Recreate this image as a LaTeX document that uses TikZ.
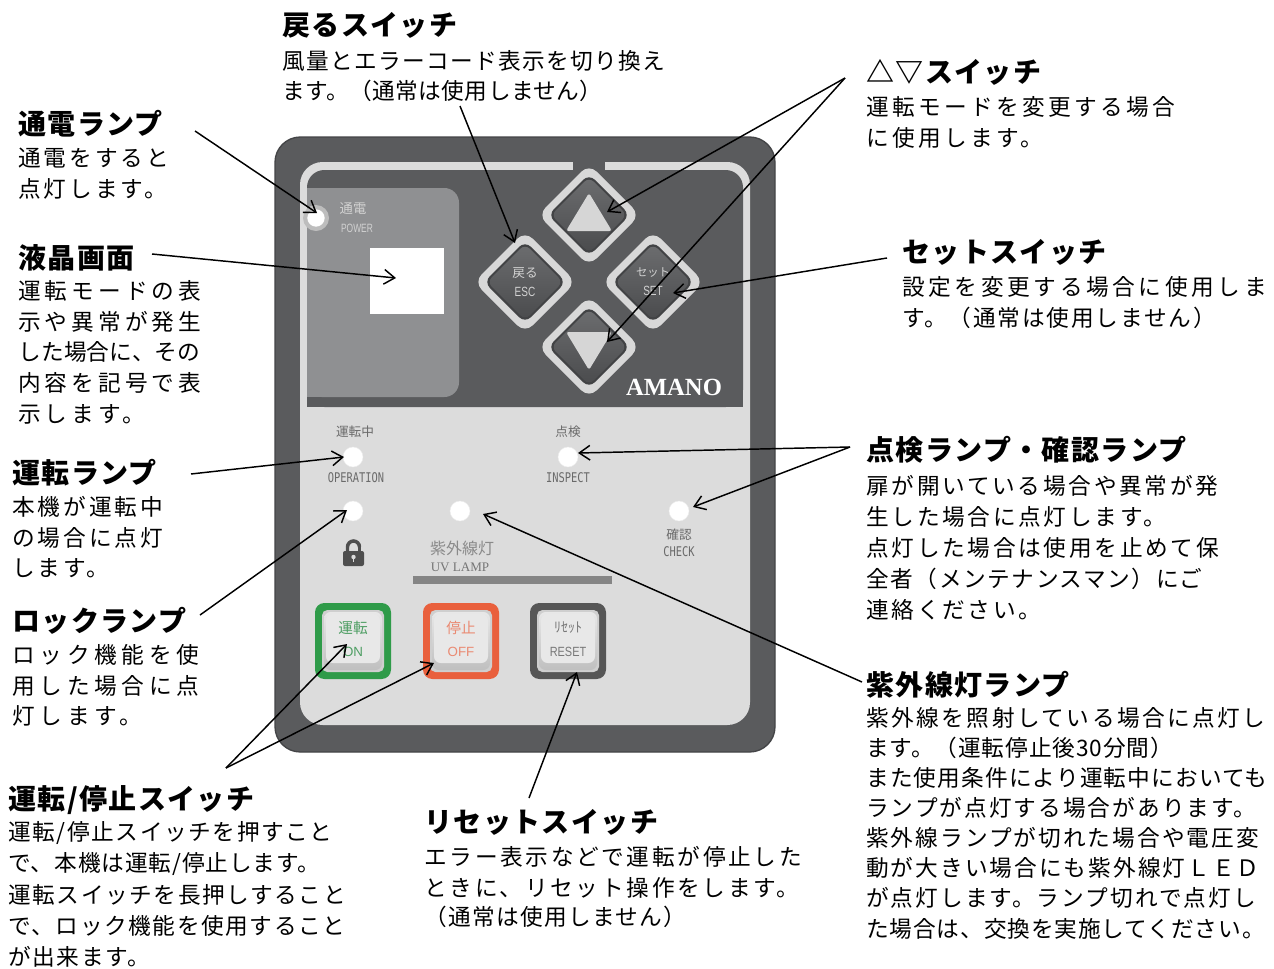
\documentclass[tikz,border=0pt]{standalone}
\usepackage{fontspec}
\setmainfont{Noto Sans CJK JP}
\newfontfamily\jpfont{Noto Sans CJK JP}
\newfontfamily\monofont{DejaVu Sans Mono}
\newfontfamily\latinsans{Liberation Sans}
\newfontfamily\latinserif{Liberation Serif}
\usetikzlibrary{arrows.meta}

\definecolor{panel}{HTML}{5A5B5D}
\definecolor{paneledge}{HTML}{444547}
\definecolor{face}{HTML}{DCDCDC}
\definecolor{lcd}{HTML}{8F9092}
\definecolor{keyrim}{HTML}{D8D8D8}
\definecolor{keyedge}{HTML}{424345}
\definecolor{keyhi}{HTML}{6C6D6F}
\definecolor{keylo}{HTML}{4A4B4D}
\definecolor{tri}{HTML}{D6D6D6}
\definecolor{keyprint}{HTML}{D2D2D2}
\definecolor{prgray}{HTML}{6A6A6A}
\definecolor{ledring}{HTML}{BDBDBD}
\definecolor{ongreen}{HTML}{2F9B49}
\definecolor{ontext}{HTML}{4E9E63}
\definecolor{offred}{HTML}{E9603D}
\definecolor{offtext}{HTML}{EA8A72}
\definecolor{resetgray}{HTML}{565656}
\definecolor{resettext}{HTML}{787878}
\definecolor{uvgray}{HTML}{8A8A8A}
\definecolor{bargray}{HTML}{858585}
\definecolor{keygap}{HTML}{CFCFCF}
\definecolor{pushface}{HTML}{E8E8E8}
\definecolor{lockgray}{HTML}{4E4E4E}

% square push key with a coloured frame: #1 centre, #2 frame colour
\newcommand\drawpushkey[2]{%
  \begin{scope}[shift={(#1)}]
    \fill[#2, rounded corners=7pt] (-38,-38) rectangle (38,38);
    \fill[keygap, rounded corners=4pt] (-31,-31) rectangle (31,31);
    \shade[top color=pushface, bottom color=keygap!80!gray, rounded corners=5pt] (-29,-29) rectangle (29,29);
    \fill[pushface, rounded corners=5pt] (-27,-27) rectangle (27,22);
  \end{scope}}

\begin{document}
\begin{tikzpicture}[x=0.75pt, y=-0.75pt,
  title/.style={anchor=west, inner sep=0pt,
    font=\jpfont\bfseries\fontsize{21pt}{24pt}\selectfont\addfontfeature{LetterSpace=5}},
  body/.style={anchor=west, inner sep=0pt,
    font=\jpfont\fontsize{17pt}{20pt}\selectfont\addfontfeature{LetterSpace=#1}},
  body/.default=12,
  conn/.style={draw=black, line width=1.1pt,
    -{Straight Barb[length=8pt, width=11pt, line width=1.1pt]}},
  led/.style={circle, fill=white, draw=white!85!gray, line width=0.3pt,
    minimum size=15pt, inner sep=0pt},
  smalljp/.style={inner sep=0pt, text=prgray,
    font=\jpfont\fontsize{9.5pt}{11pt}\selectfont},
  smallmono/.style={inner sep=0pt, text=prgray,
    font=\monofont\fontsize{10pt}{12pt}\selectfont},
  diakey/.pic={
    \fill[keyrim, rounded corners=8pt] (0,-51) -- (51,0) -- (0,51) -- (-51,0) -- cycle;
    \fill[keyedge, rounded corners=6pt] (0,-41) -- (41,0) -- (0,41) -- (-41,0) -- cycle;
    \shade[top color=keyhi, bottom color=keylo, rounded corners=5pt]
      (0,-38) -- (38,0) -- (0,38) -- (-38,0) -- cycle;
  }]
\useasboundingbox (0,0) rectangle (1274,968);
\fill[white] (0,0) rectangle (1274,968);

% ---------- control panel ----------
\fill[panel, draw=paneledge, line width=1pt, rounded corners=19pt] (275,137) rectangle (775,752);
\fill[face, rounded corners=17pt] (300,162) rectangle (750,725);
\fill[panel, rounded corners=13pt] (307,170) rectangle (743,407);
\fill[panel] (307,370) rectangle (743,407);
\fill[panel] (573,158) rectangle (605,172);

% display window
\fill[lcd, rounded corners=11pt] (307,188) rectangle (459,397);
\fill[lcd] (307,188) rectangle (340,397);
\fill[white] (370,248) rectangle (444,314);

% power lamp
\fill[ledring] (316,218) circle (13);
\node[circle, fill=white, minimum size=13pt, inner sep=0pt] (powerLed) at (316,218) {};
\node[inner sep=0pt, text=keyprint, font=\jpfont\fontsize{10pt}{12pt}\selectfont] (powerJp) at (353,209) {通電};
\node[inner sep=0pt, text=keyprint, font=\latinsans\fontsize{9pt}{11pt}\selectfont] (powerEn) at (357,228) {\scalebox{0.7}[1]{POWER}};

% diamond keys
\pic at (589,215) {diakey};
\pic at (525,282) {diakey};
\pic at (653,282) {diakey};
\pic at (589,347) {diakey};
\fill[tri, rounded corners=2pt] (589,193) -- (612,231) -- (566,231) -- cycle;
\fill[tri, rounded corners=2pt] (566,332) -- (612,332) -- (589,370) -- cycle;
\node[inner sep=0pt, text=keyprint, font=\jpfont\fontsize{9.5pt}{11pt}\selectfont] (escJp) at (525,273) {戻る};
\node[inner sep=0pt, text=keyprint, font=\latinsans\fontsize{10pt}{12pt}\selectfont] (escEn) at (525,292) {\scalebox{0.75}[1]{ESC}};
\node[inner sep=0pt, text=keyprint, font=\jpfont\fontsize{8.5pt}{10pt}\selectfont] (setJp) at (653,273) {セット};
\node[inner sep=0pt, text=keyprint, font=\latinsans\fontsize{10pt}{12pt}\selectfont] (setEn) at (653,291) {\scalebox{0.75}[1]{SET}};
\node[inner sep=0pt, text=white, font=\latinserif\bfseries\fontsize{18.5pt}{20pt}\selectfont] (brand) at (674,387) {AMANO};

% indicator lamps
\node[led] (ledOp) at (353,457) {};
\node[led] (ledLock) at (353,511) {};
\node[led] (ledUv) at (460,511) {};
\node[led] (ledInsp) at (568,457) {};
\node[led] (ledCheck) at (679,511) {};
\node[smalljp] (opJp) at (355,432) {運転中};
\node[smallmono] (opEn) at (356,478) {\scalebox{0.78}[1]{OPERATION}};
\node[smalljp] (inspJp) at (568,432) {点検};
\node[smallmono] (inspEn) at (568,478) {\scalebox{0.78}[1]{INSPECT}};
\node[smalljp] (checkJp) at (679,535) {確認};
\node[smallmono] (checkEn) at (679,552) {\scalebox{0.78}[1]{CHECK}};
\node[inner sep=0pt, text=uvgray, font=\jpfont\fontsize{12pt}{14pt}\selectfont] (uvJp) at (462,548) {紫外線灯};
\node[inner sep=0pt, text=uvgray!85!black, font=\latinserif\fontsize{9.8pt}{12pt}\selectfont] (uvEn) at (460,567) {UV LAMP};
\fill[bargray] (413,576) rectangle (612,584);

% padlock symbol
\draw[lockgray, line width=2.6pt] (347.5,553) -- (347.5,547) arc[start angle=180, end angle=360, radius=6];
\draw[lockgray, line width=2.6pt] (359.5,547) -- (359.5,553);
\fill[lockgray, rounded corners=1.5pt] (343,551) rectangle (364,566);
\fill[face] (353.5,557) circle (2.2);
\fill[face] (352.6,557) rectangle (354.4,562);

% push keys
\drawpushkey{353,641}{ongreen}
\drawpushkey{461,641}{offred}
\drawpushkey{568,641}{resetgray}
\node[inner sep=0pt, text=ontext, font=\jpfont\fontsize{11pt}{13pt}\selectfont] (onJp) at (353,628) {運転};
\node[inner sep=0pt, text=ontext, font=\latinsans\fontsize{10pt}{12pt}\selectfont] (onEn) at (353,652) {ON};
\node[inner sep=0pt, text=offtext, font=\jpfont\fontsize{11pt}{13pt}\selectfont] (offJp) at (461,628) {停止};
\node[inner sep=0pt, text=offtext, font=\latinsans\fontsize{10pt}{12pt}\selectfont] (offEn) at (461,652) {OFF};
\node[inner sep=0pt, text=resettext, font=\jpfont\fontsize{10.5pt}{13pt}\selectfont] (resetJp) at (568,628) {ﾘｾｯﾄ};
\node[inner sep=0pt, text=resettext, font=\latinsans\fontsize{10pt}{12pt}\selectfont] (resetEn) at (568,652) {\scalebox{0.82}[1]{RESET}};

% ---------- callout texts ----------
\node[title] (tEsc) at (282,25) {戻るスイッチ};
\node[body=6] (bEsc1) at (282,61) {風量とエラーコード表示を切り換え};
\node[body=2] (bEsc2) at (282,91) {ます。（通常は使用しません）};

\node[title] (tPower) at (18,124) {通電ランプ};
\node[body=13] (bPower1) at (18,158) {通電をすると};
\node[body=13] (bPower2) at (18,189) {点灯します。};

\node[title] (tLcd) at (18,258) {液晶画面};
\node[body=18] (bLcd1) at (18,291) {運転モードの表};
\node[body=18] (bLcd2) at (18,322) {示や異常が発生};
\node[body=1] (bLcd3) at (18,352) {した場合に、その};
\node[body=18] (bLcd4) at (18,383) {内容を記号で表};
\node[body=18] (bLcd5) at (18,414) {示します。};

\node[title] (tOp) at (12,473) {運転ランプ};
\node[body=13] (bOp1) at (12,507) {本機が運転中};
\node[body=13] (bOp2) at (12,538) {の場合に点灯};
\node[body=13] (bOp3) at (12,568) {します。};

\node[title] (tLock) at (12,621) {ロックランプ};
\node[body=21] (bLock1) at (12,655) {ロック機能を使};
\node[body=21] (bLock2) at (12,686) {用した場合に点};
\node[body=21] (bLock3) at (12,716) {灯します。};

\node[title] (tRun) at (8,800) {運転/停止スイッチ};
\node[body=7] (bRun1) at (8,833) {運転/停止スイッチを押すこと};
\node[body=4] (bRun2) at (8,864) {で、本機は運転/停止します。};
\node[body=7] (bRun3) at (8,895) {運転スイッチを長押しすること};
\node[body=7] (bRun4) at (8,926) {で、ロック機能を使用すること};
\node[body=7] (bRun5) at (8,957) {が出来ます。};

\node[title] (tReset) at (424,822) {リセットスイッチ};
\node[body=12] (bReset1) at (424,857) {エラー表示などで運転が停止した};
\node[body=12] (bReset2) at (424,888) {ときに、リセット操作をします。};
\node[body=6] (bReset3) at (424,917) {（通常は使用しません）};

\node[title] (tUd) at (866,72) {△▽スイッチ};
\node[body=15] (bUd1) at (866,107) {運転モードを変更する場合};
\node[body=15] (bUd2) at (866,138) {に使用します。};

\node[title] (tSet) at (902,252) {セットスイッチ};
\node[body=16] (bSet1) at (902,287) {設定を変更する場合に使用しま};
\node[body=8] (bSet2) at (902,318) {す。（通常は使用しません）};

\node[title] (tLamp) at (866,450) {点検ランプ・確認ランプ};
\node[body=12] (bLamp1) at (866,486) {扉が開いている場合や異常が発};
\node[body=12] (bLamp2) at (866,517) {生した場合に点灯します。};
\node[body=12] (bLamp3) at (866,548) {点灯した場合は使用を止めて保};
\node[body=7] (bLamp4) at (866,579) {全者（メンテナンスマン）にご};
\node[body=12] (bLamp5) at (866,610) {連絡ください。};

\node[title] (tUv) at (866,685) {紫外線灯ランプ};
\node[body=11] (bUv1) at (866,718) {紫外線を照射している場合に点灯し};
\node[body=4] (bUv2) at (866,748) {ます。（運転停止後30分間）};
\node[body=5] (bUv3) at (866,778) {また使用条件により運転中においても};
\node[body=9] (bUv4) at (866,808) {ランプが点灯する場合があります。};
\node[body=9] (bUv5) at (866,838) {紫外線ランプが切れた場合や電圧変};
\node[body=9] (bUv6) at (866,868) {動が大きい場合にも紫外線灯ＬＥＤ};
\node[body=9] (bUv7) at (866,898) {が点灯します。ランプ切れで点灯し};
\node[body=4] (bUv8) at (866,929) {た場合は、交換を実施してください。};

% ---------- connector ends ----------
\coordinate (escFrom) at (460,106);   \coordinate (escTip) at (515,243);
\coordinate (powerFrom) at (195,131); \coordinate (powerTip) at (317,213);
\coordinate (lcdFrom) at (152,254);   \coordinate (lcdTip) at (396,278);
\coordinate (opFrom) at (191,474);    \coordinate (opTip) at (344,457);
\coordinate (lockFrom) at (200,615);  \coordinate (lockTip) at (347,510);
\coordinate (runFrom) at (226,768);   \coordinate (onTip) at (347,644);
                                      \coordinate (offTip) at (434,663);
\coordinate (resetFrom) at (529,798); \coordinate (resetTip) at (577,672);
\coordinate (uvFrom) at (862,682);    \coordinate (uvTip) at (483,514);
\coordinate (lampFrom) at (850,447);  \coordinate (inspTip) at (578,453);
                                      \coordinate (checkTip) at (693,507);
\coordinate (setFrom) at (887,258);   \coordinate (setTip) at (673,293);
\coordinate (udFrom) at (845,78);     \coordinate (upTip) at (607,212);
                                      \coordinate (downTip) at (607,342);

% ---------- connectors ----------
\draw[conn] (escFrom) -- (escTip);
\draw[conn] (powerFrom) -- (powerTip);
\draw[conn] (lcdFrom) -- (lcdTip);
\draw[conn] (opFrom) -- (opTip);
\draw[conn] (lockFrom) -- (lockTip);
\draw[conn] (runFrom) -- (onTip);
\draw[conn] (runFrom) -- (offTip);
\draw[conn] (resetFrom) -- (resetTip);
\draw[conn] (uvFrom) -- (uvTip);
\draw[conn] (lampFrom) -- (inspTip);
\draw[conn] (lampFrom) -- (checkTip);
\draw[conn] (setFrom) -- (setTip);
\draw[conn] (udFrom) -- (upTip);
\draw[conn] (udFrom) -- (downTip);
\end{tikzpicture}
\end{document}
